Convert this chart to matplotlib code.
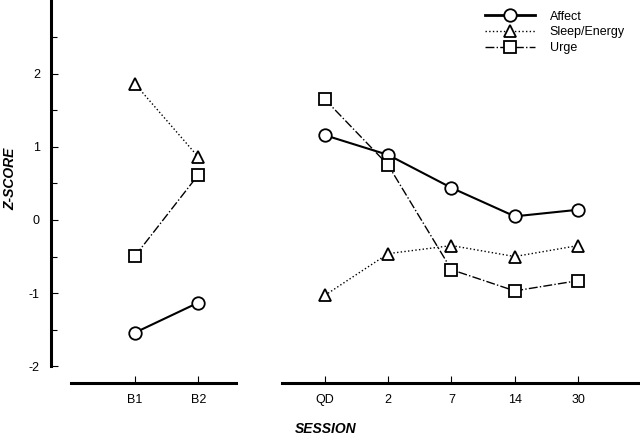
import numpy as np
import matplotlib.pyplot as plt
from matplotlib.lines import Line2D

plt.rcParams['font.family'] = ['Liberation Sans', 'DejaVu Sans']
plt.rcParams['axes.unicode_minus'] = False

# Sessions: two baseline points, then post-intervention points
base_labels = ["B1", "B2"]
post_labels = ["QD", "2", "7", "14", "30"]
base_x = [1, 2]
post_x = [4, 5, 6, 7, 8]

affect_base = [-1.54, -1.13]
affect_post = [1.16, 0.89, 0.44, 0.05, 0.14]
sleep_base = [1.86, 0.86]
sleep_post = [-1.03, -0.46, -0.35, -0.50, -0.35]
urge_base = [-0.49, 0.62]
urge_post = [1.65, 0.75, -0.68, -0.97, -0.83]

fig = plt.figure(figsize=(6.4, 4.37), dpi=100)
ax = fig.add_axes([0.0797, 0.1236, 0.9203, 0.8764])

series = [
    ("Affect", affect_base, affect_post, "-", "o", 1.5),
    ("Sleep/Energy", sleep_base, sleep_post, ":", "^", 1.0),
    ("Urge", urge_base, urge_post, "-.", "s", 1.0),
]

handles = []
for name, yb, yp, ls, mk, lw in series:
    style = dict(color="black", linestyle=ls, linewidth=lw, marker=mk,
                 markersize=9 if mk != "^" else 8.5, markerfacecolor="white",
                 markeredgecolor="black", markeredgewidth=1.3)
    ax.plot(base_x, yb, **style)
    ax.plot(post_x, yp, **style)
    lstyle = dict(style)
    if name == "Affect":
        lstyle["linewidth"] = 2.0
    handles.append(Line2D([], [], label=name, **lstyle))

ax.set_xlim(-0.33, 8.98)
ax.set_ylim(-2.23, 3.01)

# broken x axis: two separate segments
ax.spines["bottom"].set_visible(False)
ax.spines["top"].set_visible(False)
ax.spines["right"].set_visible(False)
ax.spines["left"].set_linewidth(2.2)
ax.spines["left"].set_bounds(-2, 3.01)
trans = ax.get_xaxis_transform()
ax.plot([-0.02, 2.6], [0, 0], color="black", lw=2.2, transform=trans, clip_on=False)
ax.plot([3.32, 8.98], [0, 0], color="black", lw=2.2, transform=trans, clip_on=False)

ax.set_xticks(base_x + post_x)
ax.set_xticklabels(base_labels + post_labels, fontsize=9)
ax.set_yticks([-2, -1, 0, 1, 2])
ax.set_yticks(np.arange(-1.5, 3.0, 1.0), minor=True)
ax.tick_params(axis="both", direction="in", length=5, width=0.8, labelsize=9)
ax.tick_params(axis="y", which="minor", direction="in", length=4, width=0.8)
ax.tick_params(axis="x", pad=8)
ax.tick_params(axis="y", pad=8)

fig.text(10 / 640, 1 - 179 / 437, "Z-SCORE", rotation=90, ha="center", va="center",
         fontsize=10, fontweight="bold", fontstyle="italic")
fig.text(326 / 640, 1 - 429 / 437, "SESSION", ha="center", va="center",
         fontsize=10, fontweight="bold", fontstyle="italic")

ax.legend(handles=handles, loc="upper right", bbox_to_anchor=(0.992, 1.0),
          frameon=False, fontsize=9, handlelength=4.0, labelspacing=0.3,
          handletextpad=1.2, borderaxespad=0.45)

fig.savefig("out.png", dpi=100)
